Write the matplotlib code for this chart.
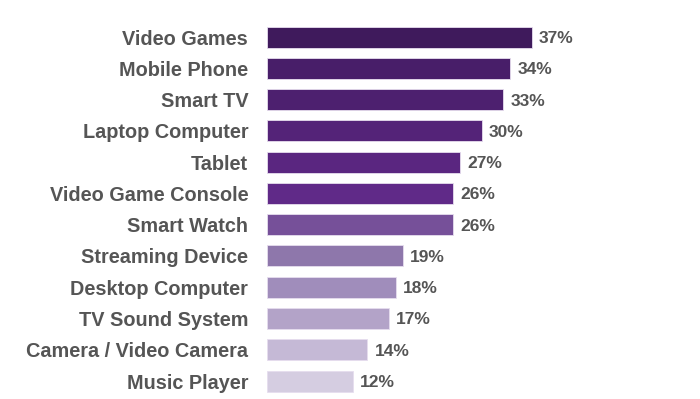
import matplotlib.pyplot as plt

# Device categories and share of respondents (%)
devices = ['Video Games', 'Mobile Phone', 'Smart TV', 'Laptop Computer', 'Tablet',
           'Video Game Console', 'Smart Watch', 'Streaming Device', 'Desktop Computer',
           'TV Sound System', 'Camera / Video Camera', 'Music Player']
values = [37, 34, 33, 30, 27, 26, 26, 19, 18, 17, 14, 12]
colors = ['#3F1A5C', '#481E69', '#4D206F', '#542378', '#5A2680', '#602A88',
          '#765099', '#8E77AB', '#A08DBB', '#B3A3C8', '#C5B9D6', '#D5CDE1']

plt.rcParams['font.family'] = ['Liberation Sans', 'DejaVu Sans']

fig = plt.figure(figsize=(7, 3.99), dpi=100)
ax = fig.add_axes([267 / 700, 0.0058, 286.4 / 700, 0.9406])

pos = list(range(len(devices)))
bars = ax.barh(pos, values, height=0.67, color=colors, edgecolor='#E6DDEE', linewidth=0.6)

for y, v in zip(pos, values):
    ax.text(v + 1.0, y, f'{v}%', va='center_baseline', ha='left', fontsize=12.5,
            fontweight='bold', color='#555555')

ax.set_yticks(pos)
ax.set_yticklabels(devices, fontsize=14.3, fontweight='bold', color='#555555',
                   va='center_baseline')
ax.tick_params(axis='y', length=0, pad=13.5)
ax.set_xticks([])
ax.set_xlim(0, 40)
ax.set_ylim(11.5, -0.5)
for s in ax.spines.values():
    s.set_visible(False)

fig.savefig('out.png', dpi=100)
